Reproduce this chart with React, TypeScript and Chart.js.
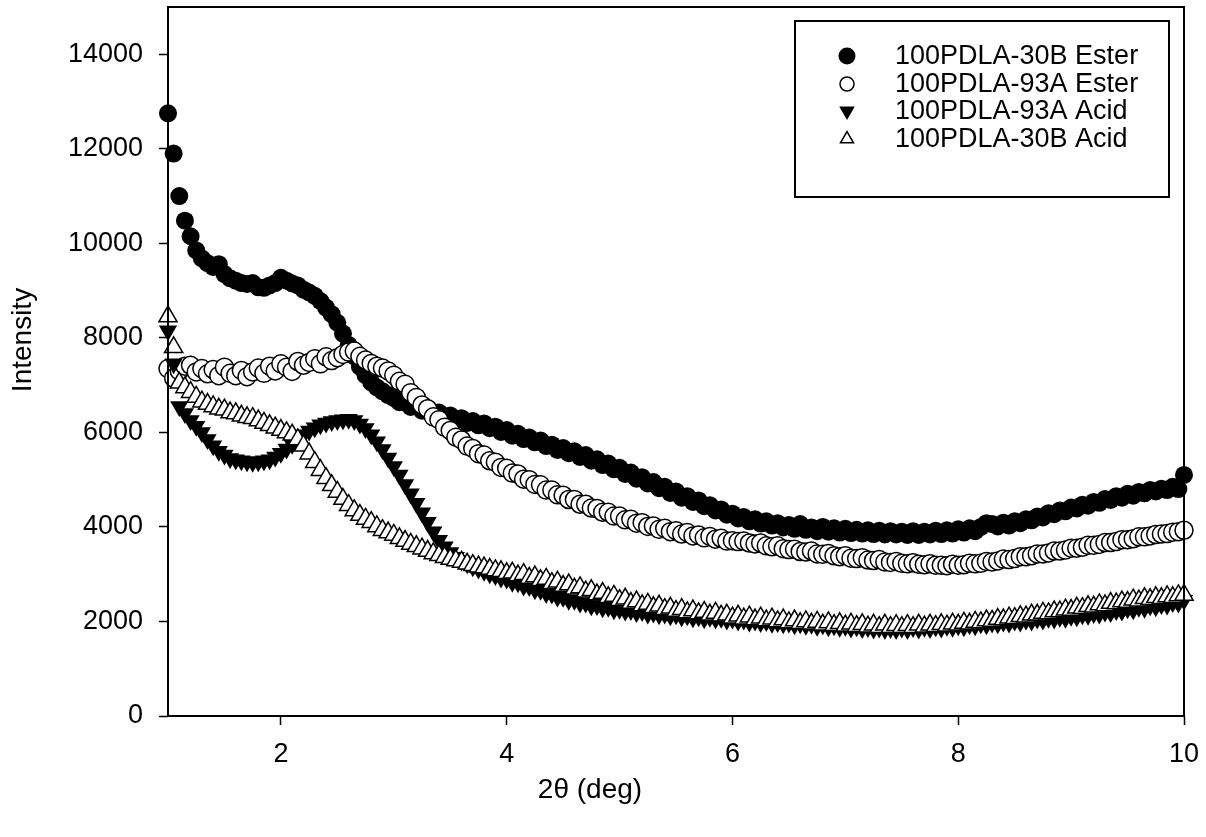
import React, { useEffect, useRef } from 'react';
import { Chart, registerables } from 'chart.js';

Chart.register(...registerables);

// 2θ scan positions (deg)
const twoTheta = [
  1.00, 1.05, 1.10, 1.15, 1.20, 1.25, 1.30, 1.35, 1.40, 1.45,
  1.50, 1.55, 1.60, 1.65, 1.70, 1.75, 1.80, 1.85, 1.90, 1.95,
  2.00, 2.05, 2.10, 2.15, 2.20, 2.25, 2.30, 2.35, 2.40, 2.45,
  2.50, 2.55, 2.60, 2.65, 2.70, 2.75, 2.80, 2.85, 2.90, 2.95,
  3.00, 3.05, 3.10, 3.15, 3.20, 3.25, 3.30, 3.35, 3.40, 3.45,
  3.50, 3.55, 3.60, 3.65, 3.70, 3.75, 3.80, 3.85, 3.90, 3.95,
  4.00, 4.05, 4.10, 4.15, 4.20, 4.25, 4.30, 4.35, 4.40, 4.45,
  4.50, 4.55, 4.60, 4.65, 4.70, 4.75, 4.80, 4.85, 4.90, 4.95,
  5.00, 5.05, 5.10, 5.15, 5.20, 5.25, 5.30, 5.35, 5.40, 5.45,
  5.50, 5.55, 5.60, 5.65, 5.70, 5.75, 5.80, 5.85, 5.90, 5.95,
  6.00, 6.05, 6.10, 6.15, 6.20, 6.25, 6.30, 6.35, 6.40, 6.45,
  6.50, 6.55, 6.60, 6.65, 6.70, 6.75, 6.80, 6.85, 6.90, 6.95,
  7.00, 7.05, 7.10, 7.15, 7.20, 7.25, 7.30, 7.35, 7.40, 7.45,
  7.50, 7.55, 7.60, 7.65, 7.70, 7.75, 7.80, 7.85, 7.90, 7.95,
  8.00, 8.05, 8.10, 8.15, 8.20, 8.25, 8.30, 8.35, 8.40, 8.45,
  8.50, 8.55, 8.60, 8.65, 8.70, 8.75, 8.80, 8.85, 8.90, 8.95,
  9.00, 9.05, 9.10, 9.15, 9.20, 9.25, 9.30, 9.35, 9.40, 9.45,
  9.50, 9.55, 9.60, 9.65, 9.70, 9.75, 9.80, 9.85, 9.90, 9.95,
  10.00,
];

// 100PDLA-30B Ester (filled circles)
const pdla30bEster = [
  12750, 11900, 11000, 10480, 10150, 9850, 9680, 9580, 9500, 9560,
  9350, 9260, 9210, 9160, 9140, 9160, 9070, 9060, 9110, 9160,
  9270, 9210, 9150, 9110, 9020, 8960, 8890, 8780, 8640, 8500,
  8320, 8090, 7850, 7610, 7390, 7210, 7060, 6950, 6870, 6790,
  6730, 6640, 6630, 6540, 6560, 6460, 6490, 6390, 6420, 6330,
  6360, 6260, 6300, 6200, 6240, 6150, 6190, 6090, 6120, 6010,
  6050, 5930, 5970, 5860, 5890, 5790, 5830, 5710, 5740, 5630,
  5670, 5560, 5600, 5480, 5520, 5400, 5430, 5310, 5340, 5220,
  5250, 5120, 5150, 5020, 5050, 4920, 4950, 4820, 4850, 4720,
  4750, 4620, 4650, 4530, 4560, 4440, 4460, 4350, 4370, 4260,
  4280, 4180, 4210, 4120, 4160, 4070, 4120, 4030, 4080, 3990,
  4040, 3960, 4060, 3940, 3990, 3910, 4000, 3900, 3970, 3880,
  3960, 3870, 3940, 3860, 3930, 3850, 3920, 3840, 3910, 3840,
  3900, 3830, 3910, 3830, 3900, 3840, 3920, 3850, 3930, 3860,
  3950, 3880, 3970, 3910, 4000, 4080, 4060, 4010, 4090, 4030,
  4120, 4080, 4160, 4140, 4220, 4200, 4290, 4270, 4350, 4330,
  4410, 4390, 4470, 4450, 4530, 4510, 4590, 4570, 4650, 4620,
  4700, 4660, 4740, 4710, 4780, 4750, 4810, 4780, 4850, 4800,
  5100,
];

// 100PDLA-93A Ester (open circles)
const pdla93aEster = [
  7350, 7150, 7300, 7400, 7420, 7280, 7350, 7240, 7330, 7200,
  7380, 7250, 7200, 7310, 7180, 7280, 7360, 7250, 7400, 7300,
  7450, 7380, 7290, 7500, 7420, 7480, 7560, 7450, 7600, 7520,
  7580, 7650, 7700, 7720, 7610, 7530, 7460, 7400, 7360, 7300,
  7210, 7080, 7020, 6840, 6740, 6580, 6500, 6330, 6270, 6110,
  6040, 5900, 5840, 5710, 5660, 5550, 5520, 5400, 5370, 5260,
  5240, 5140, 5120, 5010, 5000, 4900, 4890, 4780, 4780, 4680,
  4670, 4580, 4580, 4480, 4480, 4400, 4390, 4310, 4310, 4230,
  4230, 4150, 4160, 4080, 4090, 4010, 4020, 3950, 3970, 3900,
  3920, 3850, 3880, 3810, 3830, 3770, 3800, 3740, 3760, 3700,
  3710, 3690, 3700, 3660, 3640, 3660, 3600, 3580, 3600, 3540,
  3520, 3530, 3480, 3470, 3490, 3430, 3420, 3440, 3390, 3370,
  3390, 3340, 3330, 3350, 3300, 3290, 3310, 3260, 3250, 3270,
  3230, 3220, 3240, 3210, 3200, 3220, 3190, 3190, 3180, 3210,
  3190, 3200, 3230, 3220, 3230, 3270, 3260, 3280, 3320, 3310,
  3330, 3370, 3370, 3390, 3430, 3430, 3450, 3490, 3490, 3510,
  3550, 3550, 3570, 3610, 3610, 3630, 3670, 3670, 3690, 3730,
  3730, 3750, 3790, 3790, 3810, 3840, 3850, 3860, 3890, 3900,
  3930,
];

// 100PDLA-93A Acid (filled down-triangles)
const pdla93aAcid = [
  8150, 7450, 6550, 6400, 6250, 6130, 6000, 5850, 5720, 5600,
  5520, 5450, 5420, 5400, 5380, 5370, 5380, 5400, 5420, 5480,
  5560, 5650, 5750, 5850, 5950, 6030, 6100, 6160, 6200, 6230,
  6250, 6270, 6280, 6250, 6180, 6080, 5950, 5800, 5640, 5460,
  5280, 5100, 4900, 4700, 4500, 4300, 4100, 3900, 3720, 3580,
  3460, 3360, 3280, 3220, 3160, 3110, 3060, 3010, 2970, 2920,
  2900, 2830, 2820, 2750, 2740, 2670, 2660, 2590, 2580, 2520,
  2510, 2450, 2450, 2390, 2390, 2330, 2340, 2290, 2300, 2250,
  2260, 2220, 2230, 2190, 2210, 2160, 2180, 2140, 2160, 2120,
  2140, 2100, 2120, 2080, 2100, 2060, 2090, 2050, 2070, 2030,
  2050, 2010, 2030, 1990, 2010, 1980, 2000, 1960, 1980, 1950,
  1970, 1930, 1950, 1920, 1940, 1900, 1930, 1890, 1910, 1880,
  1900, 1860, 1890, 1850, 1870, 1840, 1860, 1830, 1850, 1830,
  1860, 1830, 1870, 1840, 1880, 1850, 1890, 1860, 1900, 1880,
  1910, 1890, 1930, 1910, 1950, 1930, 1970, 1950, 1990, 1970,
  2010, 1990, 2030, 2010, 2050, 2030, 2070, 2050, 2090, 2070,
  2110, 2100, 2140, 2130, 2170, 2160, 2200, 2190, 2230, 2220,
  2270, 2250, 2300, 2280, 2330, 2310, 2360, 2350, 2400, 2390,
  2450,
];

// 100PDLA-30B Acid (open up-triangles)
const pdla30bAcid = [
  8450, 7800, 7050, 6950, 6850, 6750, 6650, 6600, 6550, 6500,
  6480, 6420, 6400, 6350, 6320, 6300, 6250, 6200, 6150, 6100,
  6050, 6000, 5950, 5850, 5720, 5550, 5370, 5200, 5030, 4880,
  4740, 4590, 4460, 4350, 4250, 4170, 4100, 4010, 3930, 3880,
  3830, 3760, 3700, 3640, 3590, 3540, 3490, 3440, 3400, 3360,
  3320, 3290, 3260, 3220, 3190, 3160, 3140, 3110, 3080, 3060,
  3020, 3030, 2970, 3000, 2920, 2950, 2870, 2900, 2810, 2840,
  2750, 2780, 2690, 2720, 2630, 2660, 2570, 2600, 2510, 2540,
  2450, 2480, 2390, 2420, 2340, 2370, 2300, 2330, 2260, 2290,
  2220, 2260, 2190, 2230, 2170, 2200, 2140, 2180, 2120, 2140,
  2080, 2120, 2060, 2100, 2040, 2080, 2020, 2060, 2000, 2040,
  1980, 2020, 1960, 2000, 1950, 1990, 1930, 1980, 1920, 1960,
  1910, 1950, 1900, 1940, 1890, 1930, 1880, 1930, 1880, 1920,
  1880, 1920, 1880, 1930, 1890, 1930, 1900, 1940, 1910, 1950,
  1930, 1970, 1950, 1990, 1980, 2020, 2010, 2050, 2040, 2080,
  2070, 2110, 2100, 2140, 2140, 2180, 2170, 2210, 2210, 2250,
  2240, 2290, 2280, 2320, 2310, 2360, 2340, 2390, 2380, 2420,
  2410, 2460, 2440, 2490, 2470, 2510, 2490, 2530, 2510, 2550,
  2560,
];

const seriesNames = [
  '100PDLA-30B Ester',
  '100PDLA-93A Ester',
  '100PDLA-93A Acid',
  '100PDLA-30B Acid',
];

const xTicks = [2, 4, 6, 8, 10];
const yTicks = [0, 2000, 4000, 6000, 8000, 10000, 12000, 14000];
const xTitle = '2θ (deg)';
const yTitle = 'Intensity';

const FONT = "'Liberation Sans', Arial, Helvetica, sans-serif";

type MarkerKind = 'filledCircle' | 'openCircle' | 'filledDown' | 'openUp';
const markerKinds: MarkerKind[] = ['filledCircle', 'openCircle', 'filledDown', 'openUp'];

function drawMarker(ctx: CanvasRenderingContext2D, kind: MarkerKind, x: number, y: number, r: number) {
  ctx.beginPath();
  if (kind === 'filledCircle' || kind === 'openCircle') {
    ctx.arc(x, y, r, 0, Math.PI * 2);
  } else {
    const a0 = kind === 'filledDown' ? Math.PI : 0;
    for (let k = 0; k < 3; k++) {
      const a = a0 + (k * 2 * Math.PI) / 3;
      const px = x + Math.sin(a) * r;
      const py = y - Math.cos(a) * r;
      if (k === 0) ctx.moveTo(px, py);
      else ctx.lineTo(px, py);
    }
  }
  ctx.closePath();
  if (kind === 'filledCircle' || kind === 'filledDown') {
    ctx.fillStyle = '#000';
    ctx.fill();
  } else {
    ctx.fillStyle = '#fff';
    ctx.fill();
    ctx.lineWidth = 1.5;
    ctx.strokeStyle = '#000';
    ctx.stroke();
  }
}

const decorPlugin = {
  id: 'decor',
  afterDatasetsDraw(chart: any) {
    const { ctx, chartArea: a } = chart;
    ctx.save();
    // frame
    ctx.strokeStyle = '#000';
    ctx.lineWidth = 2;
    ctx.strokeRect(a.left, a.top, a.right - a.left, a.bottom - a.top);

    // legend box
    const bx = 795, by = 21, bw = 374, bh = 176;
    ctx.fillStyle = '#fff';
    ctx.fillRect(bx, by, bw, bh);
    ctx.strokeRect(bx, by, bw, bh);
    const rowY = [56, 84, 111, 139];
    const radii = [8.5, 7, 9, 7.5];
    ctx.font = `27px ${FONT}`;
    ctx.textBaseline = 'middle';
    ctx.textAlign = 'left';
    seriesNames.forEach((name, i) => {
      drawMarker(ctx, markerKinds[i], 847, rowY[i], radii[i]);
      ctx.fillStyle = '#000';
      ctx.fillText(name, 895, rowY[i] + 1);
    });

    // axis titles
    ctx.fillStyle = '#000';
    ctx.font = `28px ${FONT}`;
    ctx.textAlign = 'center';
    ctx.textBaseline = 'middle';
    ctx.fillText(xTitle, 590, 790);
    ctx.save();
    ctx.translate(23, 340);
    ctx.rotate(-Math.PI / 2);
    ctx.fillText(yTitle, 0, 0);
    ctx.restore();
    ctx.restore();
  },
};

const zeroPad = (s: any) => {
  s.paddingTop = 0;
  s.paddingBottom = 0;
  s.paddingLeft = 0;
  s.paddingRight = 0;
};

export default function App() {
  const canvasRef = useRef<HTMLCanvasElement | null>(null);

  useEffect(() => {
    if (!canvasRef.current) return;
    const mk = (vals: number[]) => vals.map((v, i) => ({ x: twoTheta[i], y: v }));
    const common = { showLine: false, clip: false as any, borderColor: '#000' };
    const chart = new Chart(canvasRef.current, {
      type: 'scatter',
      data: {
        datasets: [
          {
            ...common, label: seriesNames[0], data: mk(pdla30bEster), order: 3,
            pointStyle: 'circle', pointRadius: 9, backgroundColor: '#000', pointBorderWidth: 0,
          },
          {
            ...common, label: seriesNames[1], data: mk(pdla93aEster), order: 2,
            pointStyle: 'circle', pointRadius: 9, backgroundColor: '#fff', pointBorderWidth: 1.5,
          },
          {
            ...common, label: seriesNames[2], data: mk(pdla93aAcid), order: 1,
            pointStyle: 'triangle', rotation: 180, pointRadius: 10.5, backgroundColor: '#000', pointBorderWidth: 0,
          },
          {
            ...common, label: seriesNames[3], data: mk(pdla30bAcid), order: 0,
            pointStyle: 'triangle', pointRadius: 10.5, backgroundColor: '#fff', pointBorderWidth: 1.5,
          },
        ] as any,
      },
      options: {
        responsive: false,
        animation: false,
        devicePixelRatio: 1,
        events: [],
        layout: { autoPadding: false, padding: { top: 7, right: 22, left: 0, bottom: 0 } },
        plugins: { legend: { display: false }, tooltip: { enabled: false } },
        scales: {
          x: {
            type: 'linear',
            min: 1,
            max: 10,
            afterBuildTicks: (s: any) => { s.ticks = xTicks.map((v) => ({ value: v })); },
            afterFit: (s: any) => { s.height = 121; zeroPad(s); },
            border: { display: false },
            grid: { display: true, drawOnChartArea: false, drawTicks: true, tickLength: 9, tickWidth: 1.5, tickColor: '#000', color: '#000' },
            ticks: {
              color: '#000', font: { family: FONT, size: 27 }, padding: 13,
              maxRotation: 0, autoSkip: false, callback: (v: any) => String(v),
            },
          },
          y: {
            type: 'linear',
            min: 0,
            max: 15000,
            afterBuildTicks: (s: any) => { s.ticks = yTicks.map((v) => ({ value: v })); },
            afterFit: (s: any) => { s.width = 168; zeroPad(s); },
            border: { display: false },
            grid: { display: true, drawOnChartArea: false, drawTicks: true, tickLength: 9, tickWidth: 1.5, tickColor: '#000', color: '#000' },
            ticks: {
              color: '#000', font: { family: FONT, size: 27 }, padding: 16,
              autoSkip: false, callback: (v: any) => String(v),
            },
          },
        },
      } as any,
      plugins: [decorPlugin],
    });
    return () => chart.destroy();
  }, []);

  return (
    <div style={{ position: 'absolute', left: 0, top: 0, width: 1206, height: 837, background: '#fff' }}>
      <canvas ref={canvasRef} width={1206} height={837} style={{ width: 1206, height: 837 }} />
    </div>
  );
}
